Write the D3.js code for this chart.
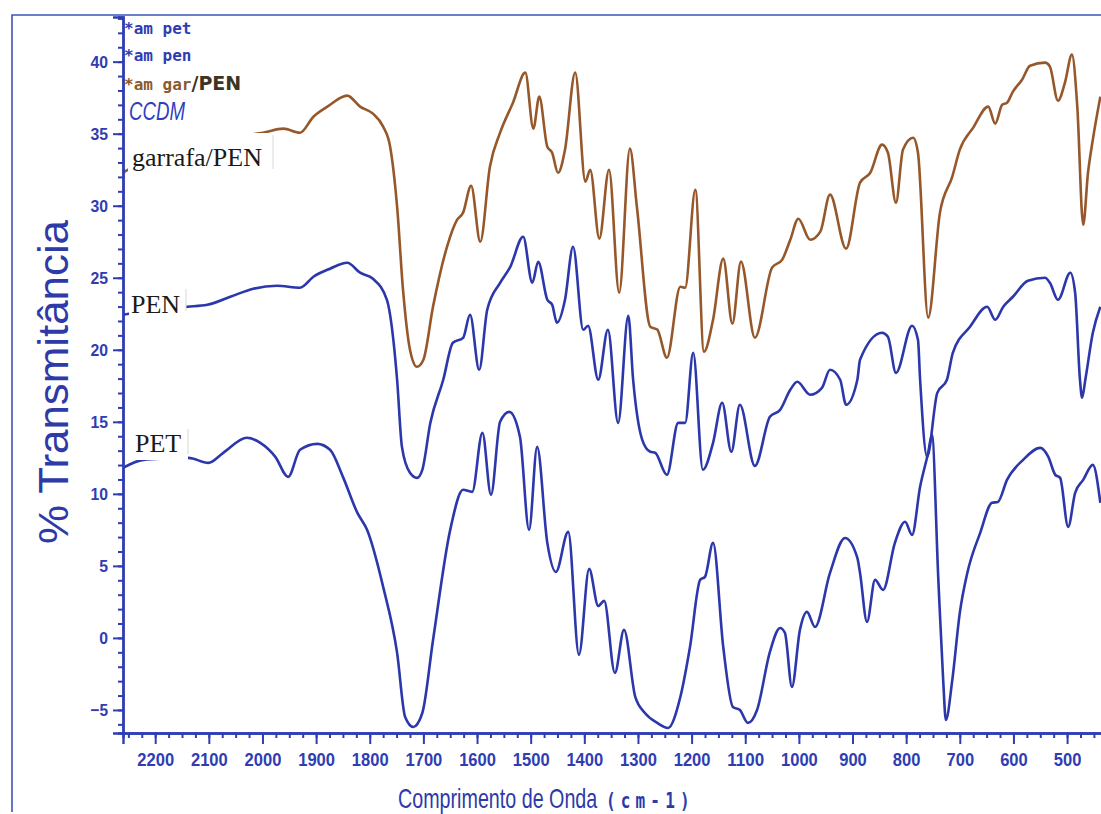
<!DOCTYPE html>
<html>
<head>
<meta charset="utf-8">
<script src="https://cdn.jsdelivr.net/npm/d3@7"></script>
<style>
  html, body { margin: 0; padding: 0; background: #ffffff; }
  svg { display: block; }
</style>
</head>
<body>
<svg id="chart" width="1101" height="814"></svg>
<script>
// ---------- data (wavenumber cm-1, % transmittance) ----------
const garrafaWn = [2260,2230,2150,2050,1999,1961,1930,1905,1879,1842,1818,1794,1775,1762,1749,1738,1725,1712,1700,1682,1656,1637,1626,1611,1594,1576,1557,1533,1510,1495,1484,1469,1460,1449,1436,1417,1398,1389,1372,1354,1335,1315,1302,1277,1264,1246,1221,1212,1193,1177,1160,1141,1124,1108,1082,1050,1031,1016,1001,979,960,942,912,886,867,845,834,819,806,787,778,759,737,714,700,675,647,634,621,612,601,584,569,541,532,517,504,491,481,470,461,452,438];
const garrafaT  = [32.3,32.9,34.0,34.8,35.07,35.35,35.07,36.18,36.88,37.64,36.88,36.39,35.49,34.1,29.93,24.17,20.0,18.82,19.31,23.0,27.15,29.03,29.52,31.39,27.5,32.71,35.07,37.15,39.24,35.35,37.57,34.1,33.68,32.29,33.89,39.24,31.67,32.5,27.71,32.5,23.96,33.96,29.93,21.6,21.4,19.45,24.38,24.31,31.11,19.87,22.09,26.33,21.81,26.12,20.84,25.7,26.26,27.64,29.1,27.64,28.2,30.77,27.02,31.6,32.29,34.24,33.68,30.21,33.89,34.72,33.68,22.23,29.52,32.02,33.89,35.42,36.88,35.7,37.01,37.15,37.92,38.75,39.72,39.93,39.65,37.29,38.54,40.49,36.88,28.68,32.29,34.59,37.57];

const penWn = [2260,2200,2140,2103,2060,2017,1973,1930,1905,1874,1842,1818,1794,1768,1756,1749,1740,1725,1712,1702,1687,1663,1645,1626,1613,1596,1581,1557,1538,1514,1497,1486,1469,1460,1451,1436,1421,1402,1393,1374,1356,1337,1318,1309,1292,1277,1268,1246,1225,1212,1197,1179,1160,1143,1126,1110,1082,1054,1035,1016,1003,979,957,942,923,912,891,886,845,834,819,789,778,774,761,742,724,713,681,649,634,619,601,573,541,532,517,494,485,476,472,466,452,438];
const penT  = [22.43,22.8,22.99,23.12,23.68,24.24,24.44,24.31,25.07,25.63,26.04,25.35,24.93,23.47,20.69,17.92,13.26,11.46,11.11,11.67,14.93,17.92,20.49,20.83,22.43,18.61,22.78,24.65,25.76,27.85,24.65,26.11,23.47,23.13,21.88,23.47,27.15,21.39,21.67,17.92,21.39,14.93,22.36,17.92,13.75,12.92,12.85,11.32,14.93,14.93,19.79,11.67,13.54,16.32,12.92,16.18,11.94,15.35,15.83,17.22,17.78,16.88,17.36,18.61,17.92,16.18,17.92,19.31,21.18,20.9,18.4,21.67,20.69,17.92,12.57,17.01,17.92,19.79,21.6,22.99,22.08,22.99,23.68,24.79,25.0,24.65,23.47,25.35,23.96,17.92,16.67,17.92,21.18,22.99];

const petWn = [2260,2222,2180,2138,2101,2073,2029,2004,1976,1952,1930,1898,1874,1850,1823,1805,1775,1749,1734,1719,1702,1682,1650,1626,1609,1590,1574,1557,1540,1520,1503,1488,1469,1453,1430,1410,1391,1374,1363,1343,1326,1305,1287,1264,1244,1221,1203,1184,1175,1160,1141,1123,1110,1095,1078,1054,1035,1026,1013,998,985,970,942,914,891,886,873,858,843,821,802,789,774,759,752,740,731,726,714,700,686,662,640,629,612,582,550,535,522,513,498,485,470,452,438];
const petT  = [11.81,12.36,12.45,12.5,12.15,12.85,13.89,13.54,12.57,11.18,13.06,13.47,13.06,11.18,8.68,7.5,3.54,-1.04,-5.49,-6.18,-5.21,-0.14,7.5,10.28,10.14,14.24,9.93,15.0,15.69,13.96,7.5,13.26,6.6,4.58,7.36,-1.18,4.79,2.22,2.57,-2.43,0.56,-4.1,-5.21,-5.9,-6.25,-4.1,-0.63,4.03,4.24,6.6,-0.63,-4.79,-5.0,-5.9,-5.0,-0.97,0.69,0.35,-3.4,0.56,1.81,0.76,4.51,6.94,5.56,4.51,1.11,4.03,3.33,6.6,8.06,7.15,10.49,12.85,14.1,4.03,-2.92,-5.69,-2.92,1.74,4.51,7.29,9.38,9.44,10.97,12.36,13.19,12.57,11.32,11.11,7.71,10.07,10.97,12.01,9.38];

const xTickValues = [2200,2100,2000,1900,1800,1700,1600,1500,1400,1300,1200,1100,1000,900,800,700,600,500];
const yTickValues = [-5,0,5,10,15,20,25,30,35,40];
const legendLines = ["*am pet", "*am pen", "*am gar"];
const seriesLabels = ["garrafa/PEN", "PEN", "PET"];

// ---------- layout ----------
const svg = d3.select("#chart");
const axisBlue = "#2f3db3";
const lineBlue = "#2b37aa";
const brown = "#96572a";
const narrow = "'Liberation Sans Narrow', 'Liberation Sans', Arial, sans-serif";

const x = d3.scaleLinear().domain([2260, 420]).range([123, 1110]);
const y = d3.scaleLinear().domain([-6.6, 43.1]).range([733, 17]);

svg.append("rect").attr("width", 1101).attr("height", 814).attr("fill", "#ffffff");

// outer frame
svg.append("path")
  .attr("d", "M12,812 L12,15 L1101,15")
  .attr("fill", "none").attr("stroke", "#3e55b8").attr("stroke-width", 1.6);

// curves
const line = d3.line().x(d => x(d[0])).y(d => y(d[1])).curve(d3.curveMonotoneX);
svg.append("clipPath").attr("id", "plotclip")
  .append("rect").attr("x", 123).attr("y", 17).attr("width", 1000).attr("height", 716);
const plot = svg.append("g").attr("clip-path", "url(#plotclip)");

plot.append("path").datum(d3.zip(petWn, petT))
  .attr("d", line).attr("fill", "none").attr("stroke", lineBlue).attr("stroke-width", 2.6);
plot.append("path").datum(d3.zip(penWn, penT))
  .attr("d", line).attr("fill", "none").attr("stroke", lineBlue).attr("stroke-width", 2.6);
plot.append("path").datum(d3.zip(garrafaWn, garrafaT))
  .attr("d", line).attr("fill", "none").attr("stroke", brown).attr("stroke-width", 2.6);

// axes
const yAxisG = svg.append("g").attr("transform", "translate(123,0)");
yAxisG.call(d3.axisLeft(y).tickValues(d3.range(-6, 44, 1)).tickSize(5).tickFormat(""));
yAxisG.append("g").call(d3.axisLeft(y).tickValues(yTickValues).tickSize(10).tickPadding(5).tickFormat(d3.format("d")));
yAxisG.selectAll("path.domain").attr("stroke", axisBlue).attr("stroke-width", 2.4);
yAxisG.selectAll("line").attr("stroke", axisBlue).attr("stroke-width", 2);
yAxisG.selectAll("text").attr("fill", axisBlue).attr("font-family", narrow)
  .attr("font-size", 17).attr("font-weight", "bold")
  .attr("lengthAdjust", "spacingAndGlyphs")
  .attr("textLength", function () { const s = this.textContent; return s.length * 8.8; });

const xAxisG = svg.append("g").attr("transform", "translate(0,733)");
xAxisG.call(d3.axisBottom(x).tickValues(d3.range(2250, 419, -25)).tickSize(5).tickFormat(""));
xAxisG.append("g").call(d3.axisBottom(x).tickValues(xTickValues).tickSize(11).tickPadding(9).tickFormat(d3.format("d")));
xAxisG.selectAll("path.domain").attr("stroke", axisBlue).attr("stroke-width", 2.4);
xAxisG.selectAll("line").attr("stroke", axisBlue).attr("stroke-width", 2);
xAxisG.selectAll("text").attr("fill", axisBlue).attr("font-family", narrow)
  .attr("font-size", 18).attr("font-weight", "bold")
  .attr("lengthAdjust", "spacingAndGlyphs")
  .attr("textLength", function () { const s = this.textContent; return s.length * 9.2; });

// axis titles
svg.append("text")
  .attr("transform", "translate(68,382) rotate(-90)")
  .attr("text-anchor", "middle")
  .attr("font-family", "'Liberation Sans', Arial, sans-serif")
  .attr("font-size", 42).attr("fill", "#2d3aa8")
  .attr("textLength", 324).attr("lengthAdjust", "spacingAndGlyphs")
  .text("% Transmitância");

const xt = svg.append("text")
  .attr("transform", "translate(398,808) scale(0.73,1)")
  .attr("fill", "#2d3aa8").attr("font-family", "'Liberation Sans', Arial, sans-serif").attr("font-size", 27);
xt.append("tspan").text("Comprimento de Onda");
xt.append("tspan").attr("dx", 12)
  .attr("font-family", "'DejaVu Sans Mono', monospace").attr("font-size", 22)
  .attr("font-weight", "bold")
  .attr("letter-spacing", 7).text("(cm-1)");

// legend text (instrument annotations)
const mono = "'DejaVu Sans Mono', 'Liberation Mono', monospace";
svg.append("text").attr("x", 124).attr("y", 34).attr("font-family", mono).attr("font-size", 16)
  .attr("font-weight", "bold").attr("fill", axisBlue).text(legendLines[0]);
svg.append("text").attr("x", 124).attr("y", 61).attr("font-family", mono).attr("font-size", 16)
  .attr("font-weight", "bold").attr("fill", axisBlue).text(legendLines[1]);
const g3 = svg.append("text").attr("x", 124).attr("y", 90).attr("font-family", mono).attr("font-size", 16)
  .attr("font-weight", "bold").attr("fill", "#8a5a2e");
g3.append("tspan").text(legendLines[2]);
g3.append("tspan").attr("fill", "#3b3522").attr("font-size", 19).attr("font-family", "'DejaVu Sans', sans-serif")
  .attr("font-weight", "bold").text("/PEN");
svg.append("text").attr("x", 129).attr("y", 120).attr("font-family", narrow).attr("font-size", 25)
  .attr("font-style", "italic").attr("fill", "#2f3fc0")
  .attr("textLength", 56).attr("lengthAdjust", "spacingAndGlyphs").text("CCDM");

// pasted series labels
const labelBoxes = [
  {x0: 128, y0: 133, w: 145, h: 42, tx: 132, ty: 166},
  {x0: 129, y0: 287, w: 57, h: 30, tx: 131, ty: 313},
  {x0: 133, y0: 427, w: 55, h: 33, tx: 135, ty: 452}
];
labelBoxes.forEach((b, i) => {
  svg.append("rect").attr("x", b.x0).attr("y", b.y0).attr("width", b.w).attr("height", b.h).attr("fill", "#ffffff");
  svg.append("line").attr("x1", b.x0 + b.w).attr("x2", b.x0 + b.w).attr("y1", b.y0 + 2).attr("y2", b.y0 + b.h - 6)
    .attr("stroke", "#d8d8d8").attr("stroke-width", 1);
  svg.append("text").attr("x", b.tx).attr("y", b.ty)
    .attr("font-family", "'Liberation Serif', 'Times New Roman', serif").attr("font-size", 26)
    .attr("fill", "#1a1a1a").text(seriesLabels[i]);
});
</script>
</body>
</html>
